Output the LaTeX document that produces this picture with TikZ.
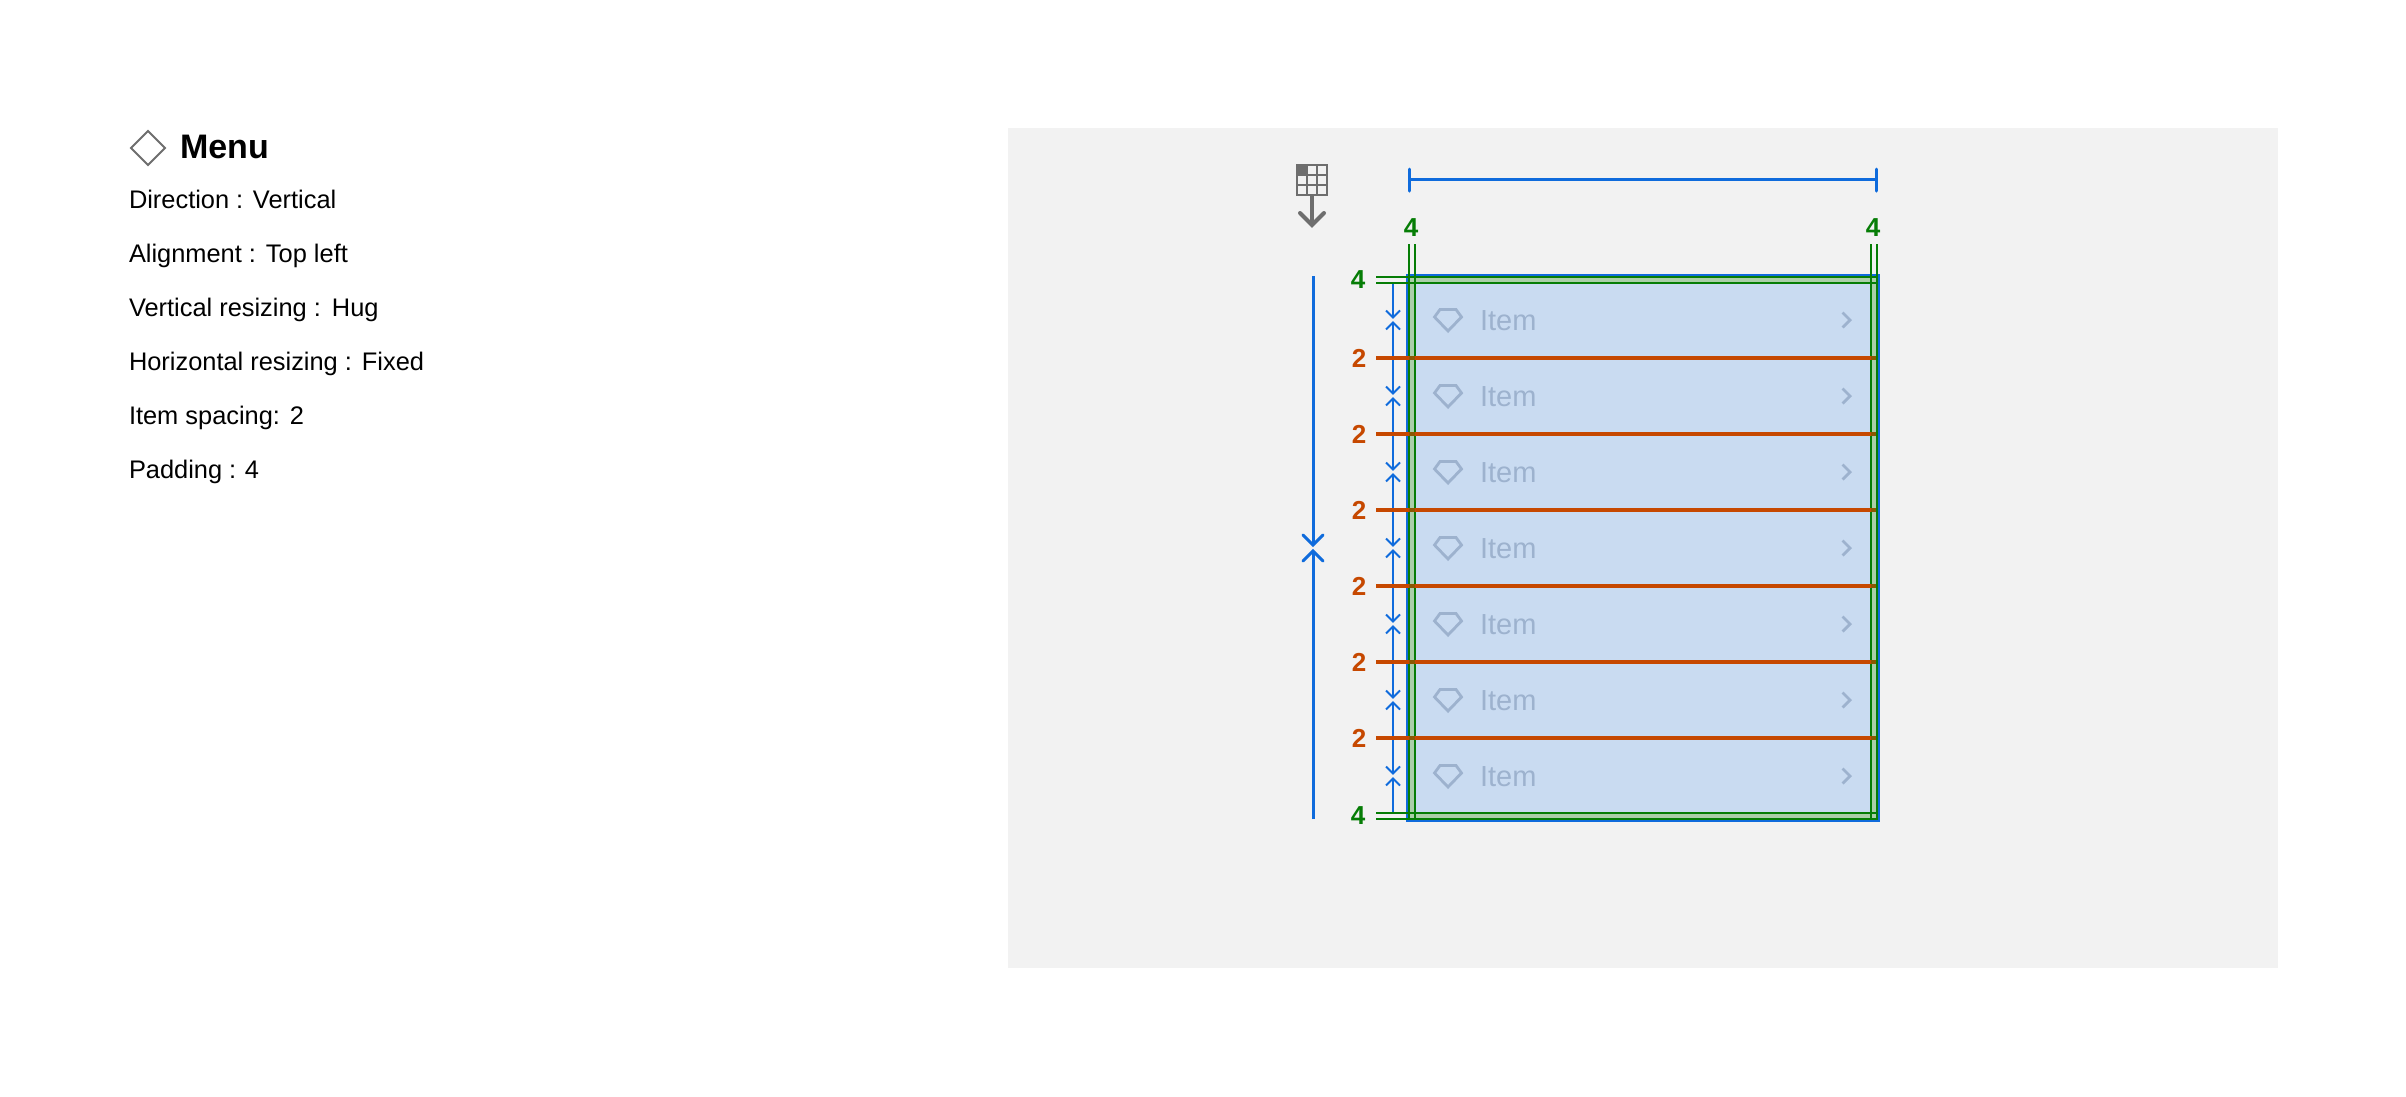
\documentclass[tikz,border=0pt]{standalone}
\usepackage{fontspec}
\setmainfont{Liberation Sans}
\definecolor{panel}{HTML}{F2F2F2}
\definecolor{dimblue}{HTML}{0F6BDC}
\definecolor{padgreen}{HTML}{067D06}
\definecolor{gaporange}{HTML}{C64800}
\definecolor{itemfill}{HTML}{C9DBF1}
\definecolor{padfill}{HTML}{ABCFA9}
\definecolor{itemtext}{HTML}{9DB2CE}
\definecolor{icongray}{HTML}{6E6E6E}
\tikzset{
  x=1pt,y=-1pt,
  txt/.style={inner sep=0pt,outer sep=0pt,anchor=base west,font=\fontsize{25.4}{25.4}\selectfont,text=black},
  numlabel/.style={inner sep=0pt,outer sep=0pt,anchor=base,font=\bfseries\fontsize{26}{26}\selectfont},
  dimbig/.style={draw=dimblue,line width=3pt},
  dimsmall/.style={draw=dimblue,line width=2pt},
  padline/.style={draw=padgreen,line width=2pt},
  gapline/.style={draw=gaporange,line width=4pt},
  itemicon/.style={draw=itemtext,line width=2.8pt,line join=miter},
}
\begin{document}
\begin{tikzpicture}
\path[use as bounding box,fill=white] (0,0) rectangle (2406,1096);
\fill[panel] (1008,128) rectangle (2278,968);

% left text block
\draw[draw=icongray,line width=2pt] (148,131) -- (165,148) -- (148,165) -- (131,148) -- cycle;
\node[txt,font=\bfseries\fontsize{34}{34}\selectfont] (title) at (180,158) {Menu};
\node[txt] (t1) at (129,208) {\makebox[124pt][l]{Direction :}Vertical};
\node[txt] (t2) at (129,262) {\makebox[137pt][l]{Alignment :}Top left};
\node[txt] (t3) at (129,316) {\makebox[203pt][l]{Vertical resizing :}Hug};
\node[txt] (t4) at (129,370) {\makebox[233pt][l]{Horizontal resizing :}Fixed};
\node[txt] (t5) at (129,424) {\makebox[161pt][l]{Item spacing:}2};
\node[txt] (t6) at (129,478) {\makebox[116pt][l]{Padding :}4};

% frame shadow
\foreach \s in {1,...,8}
  \fill[black,opacity=0.0015] (1407-\s,275-\s+6) rectangle (1880+\s,822+\s+6);

% frame and padding
\fill[padfill] (1407,275) rectangle (1879,821);
\fill[itemfill] (1415,283) rectangle (1871,813);

% items
\foreach \i in {0,...,6}{
  \pgfmathsetmacro{\cy}{320+76*\i}
  \begin{scope}[shift={(0,\cy)}]
    \draw[itemicon] (1440,-10.5) -- (1456,-10.5) -- (1461.5,-3) -- (1448,11) -- (1434.5,-3) -- cycle;
    \node[inner sep=0pt,outer sep=0pt,anchor=base west,text=itemtext,font=\fontsize{29}{29}\selectfont] (item\i) at (1480,10) {Item};
    \draw[draw=itemtext,line width=2.8pt] (1842.5,-7.5) -- (1850,0) -- (1842.5,7.5);
  \end{scope}
}

% spacing lines
\foreach \i/\y in {1/358,2/434,3/510,4/586,5/662,6/738}{
  \coordinate (gs\i) at (1376,\y);
  \coordinate (ge\i) at (1876,\y);
  \node[numlabel,text=gaporange] (gl\i) at (1359,\y+9) {2};
}

% small hug arrows
\foreach \i/\c/\e in {0/320/358,1/396/434,2/472/510,3/548/586,4/624/662,5/700/738,6/776/812}{
  \pgfmathsetmacro{\st}{\c-38}
  \coordinate (hugtop\i) at (1393,{\i==0 ? 284 : \st});
  \coordinate (hugdn\i) at (1393,\c-2.5);
  \coordinate (hugup\i) at (1393,\c+2.5);
  \coordinate (hugbot\i) at (1393,\e);
  \draw[dimsmall] (hugtop\i) -- (hugdn\i);
  \draw[dimsmall] (hugbot\i) -- (hugup\i);
  \draw[dimsmall] (1386,\c-9.5) -- (hugdn\i) -- (1400,\c-9.5);
  \draw[dimsmall] (1386,\c+9.5) -- (hugup\i) -- (1400,\c+9.5);
}

% frame outline and padding lines
\draw[dimblue,line width=3pt] (1407.5,275.5) rectangle (1878.5,820.5);
\coordinate (pa1) at (1376,277); \coordinate (pb1) at (1878,277);
\coordinate (pa2) at (1376,283); \coordinate (pb2) at (1878,283);
\coordinate (pa3) at (1376,813); \coordinate (pb3) at (1878,813);
\coordinate (pa4) at (1376,819); \coordinate (pb4) at (1878,819);
\coordinate (qa1) at (1409,244); \coordinate (qb1) at (1409,819);
\coordinate (qa2) at (1415,244); \coordinate (qb2) at (1415,819);
\coordinate (qa3) at (1871,244); \coordinate (qb3) at (1871,819);
\coordinate (qa4) at (1877,244); \coordinate (qb4) at (1877,819);
\foreach \i in {1,...,4}{
  \draw[padline] (pa\i) -- (pb\i);
  \draw[padline] (qa\i) -- (qb\i);
}
\foreach \i in {1,...,6}{
  \draw[gapline] (gs\i) -- (ge\i);
  \fill[padgreen,opacity=0.3] (gs\i -| qa1) ++(0,-2) rectangle ++(6,4);
  \fill[padgreen,opacity=0.3] (gs\i -| qa3) ++(0,-2) rectangle ++(6,4);
}
\node[numlabel,text=padgreen] (pt1) at (1411,236) {4};
\node[numlabel,text=padgreen] (pt2) at (1873,236) {4};
\node[numlabel,text=padgreen] (pt3) at (1358,288) {4};
\node[numlabel,text=padgreen] (pt4) at (1358,824) {4};

% fixed-width dimension
\coordinate (wl) at (1409,179);
\coordinate (wr) at (1876.5,179);
\draw[dimbig] (wl) -- (wr);
\draw[dimbig,line cap=round] (1409,169) -- (1409,191);
\draw[dimbig,line cap=round] (1876.5,169) -- (1876.5,191);

% hug-height dimension
\coordinate (ht) at (1313,276);
\coordinate (hb) at (1313,819);
\coordinate (hm1) at (1313,545);
\coordinate (hm2) at (1313,551);
\draw[dimbig] (ht) -- (hm1);
\draw[dimbig] (hb) -- (hm2);
\draw[dimbig,line cap=round] (1303,535) -- (hm1) -- (1323,535);
\draw[dimbig,line cap=round] (1303,561) -- (hm2) -- (1323,561);

% direction icon
\fill[icongray] (1297,165) rectangle (1307,175);
\foreach \g in {0,10,20,30}{
  \draw[icongray,line width=2pt] (1297+\g,165) -- (1297+\g,195);
  \draw[icongray,line width=2pt] (1297,165+\g) -- (1327,165+\g);
}
\draw[icongray,line width=2pt] (1297,165) rectangle (1327,195);
\draw[icongray,line width=4pt] (1312,195) -- (1312,225);
\draw[icongray,line width=4pt,line cap=round,line join=miter] (1300,213) -- (1312,225) -- (1324,213);
\end{tikzpicture}
\end{document}
